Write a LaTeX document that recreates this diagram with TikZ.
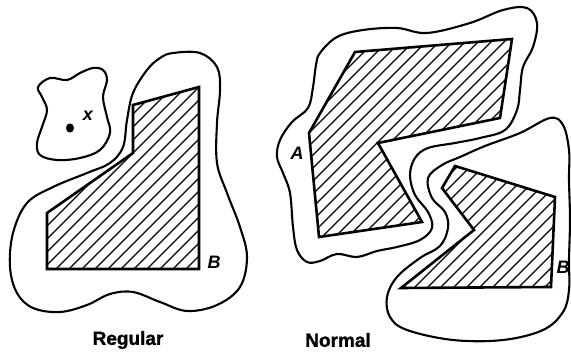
\documentclass[tikz,border=0pt]{standalone}
\usepackage{fontspec}
\setmainfont{Liberation Sans}[BoldFeatures={FakeBold=1.3}]
\begin{document}
\begin{tikzpicture}[x=1pt,y=-1pt,
  outline/.style={line width=2.1pt, line join=round},
  poly/.style={line width=2.6pt, line join=miter},
  hatch/.style={line width=1.2pt},
  lbl/.style={font=\bfseries\itshape\fontsize{18}{18}\selectfont, inner sep=0pt},
  capt/.style={font=\bfseries\fontsize{19}{19}\selectfont, inner sep=0pt}]
\useasboundingbox (0,0) rectangle (571,353);
\fill[white] (0,0) rectangle (571,353);

% ---------- Regular ----------
\begin{scope}
\clip (47,213) -- (133,153) -- (133,105) -- (199,87) -- (199,269) -- (47,269) -- cycle;
\foreach \i in {-400,-387,...,600} \draw[hatch] (\i,400) -- ++(400,-400);
\end{scope}
\draw[poly] (47,213) -- (133,153) -- (133,105) -- (199,87) -- (199,269) -- (47,269) -- cycle;

\draw[outline] plot[smooth cycle, tension=0.6] coordinates {
(173,53) (200,53) (217,67) (220,90) (217,123) (217,163) (227,193) (240,227)
(247,257) (240,287) (217,305) (187,311) (160,302) (133,292) (110,294) (87,305)
(60,312) (33,308) (17,293) (10,267) (13,233) (27,203) (53,187) (87,173)
(110,163) (123,147) (127,120) (133,93) (147,70) (160,58)};

\draw[outline] plot[smooth cycle, tension=0.6] coordinates {
(38,87) (50,78) (67,80) (80,73) (93,68) (103,70) (107,80) (103,97) (107,117)
(110,133) (100,150) (80,158) (57,160) (40,155) (37,143) (42,127) (47,110) (42,97)};

\fill (70,128) ellipse [x radius=4pt, y radius=4.6pt];
\node[lbl] (xlab) at (88,116) {x};
\node[lbl] (blab1) at (214,262) {B};
\node[capt] (reg) at (128,340) {Regular};

% ---------- Normal ----------
\begin{scope}
\clip (355,52) -- (512,39) -- (500,118) -- (378,143) -- (422,222) -- (319,237) -- (309,133) -- cycle;
\foreach \i in {-400,-387,...,700} \draw[hatch] (\i,400) -- ++(400,-400);
\end{scope}
\draw[poly] (355,52) -- (512,39) -- (500,118) -- (378,143) -- (422,222) -- (319,237) -- (309,133) -- cycle;

\begin{scope}
\clip (455,166) -- (555,197) -- (551,287) -- (401,288) -- (474,230) -- (442,188) -- cycle;
\foreach \i in {-400,-387,...,700} \draw[hatch] (\i,400) -- ++(400,-400);
\end{scope}
\draw[poly] (455,166) -- (555,197) -- (551,287) -- (401,288) -- (474,230) -- (442,188) -- cycle;

\draw[outline] plot[smooth cycle, tension=0.6] coordinates {
(320,53) (337,37) (363,30) (397,28) (427,33) (470,23) (503,10) (527,8) (537,23)
(533,47) (523,67) (520,90) (517,110) (505,130) (480,138) (455,143) (428,148)
(415,158) (410,175) (415,195) (428,212) (432,228) (420,240) (397,247) (377,251)
(357,257) (337,254) (320,261) (307,262) (297,250) (293,227) (290,193) (283,173)
(277,157) (280,140) (292,122) (308,108) (313,87) (316,65)};

\draw[outline] plot[smooth cycle, tension=0.6] coordinates {
(428,178) (442,165) (460,157) (485,146) (520,133) (550,118) (563,125) (569,150)
(569,180) (570,220) (569,260) (569,290) (563,312) (543,330) (503,340) (453,340)
(407,330) (390,317) (387,297) (397,277) (420,258) (440,246) (448,228) (445,212)
(432,198)};

\node[lbl] (alab) at (297,153) {A};
\node[lbl] (blab2) at (563,267) {B};
\node[capt] (nor) at (338,340) {Normal};
\end{tikzpicture}
\end{document}
